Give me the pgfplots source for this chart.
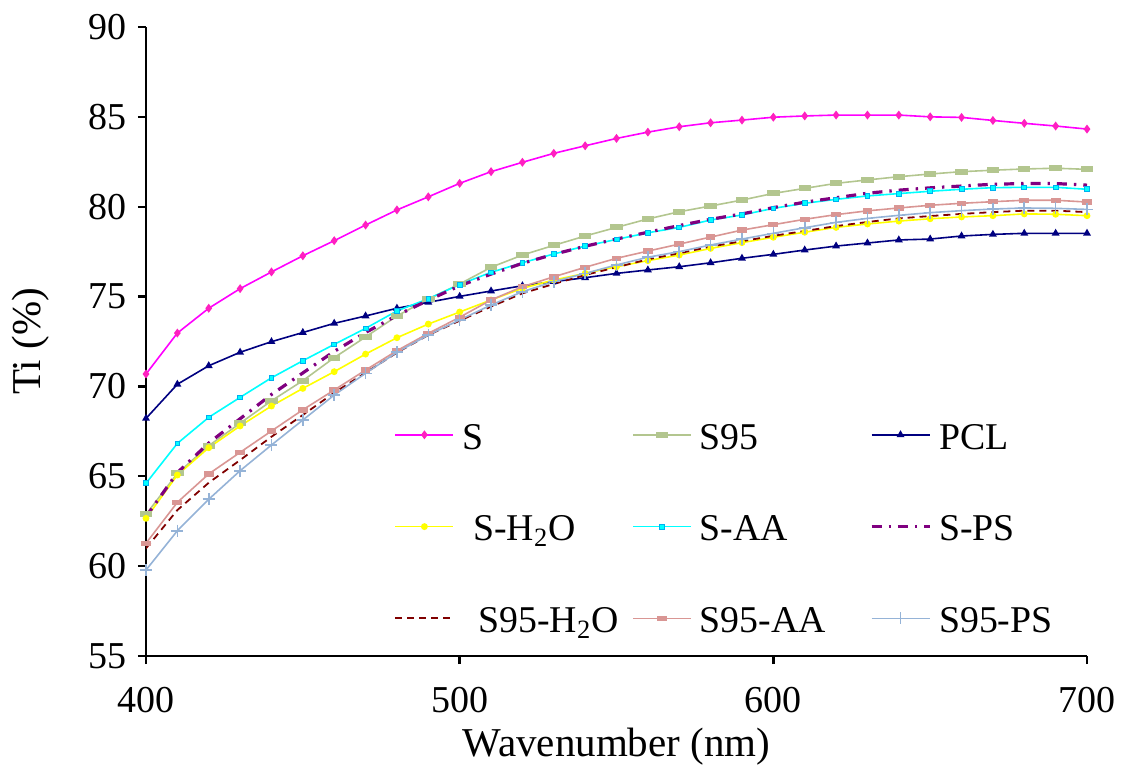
\documentclass[border=0pt]{standalone}
\usepackage{fontspec}
\setmainfont{Liberation Serif}
\usepackage{pgfplots}
\pgfplotsset{compat=1.18}
\usepackage{pgfplotstable}

\definecolor{cS}{HTML}{FF00FF}
\definecolor{cSm}{HTML}{FF20C0}
\definecolor{cSn}{HTML}{B3C68F}
\definecolor{cPCL}{HTML}{000080}
\definecolor{cSH}{HTML}{FFFF00}
\definecolor{cSAA}{HTML}{00FFFF}
\definecolor{cSAAd}{HTML}{00B0F0}
\definecolor{cSPS}{HTML}{800080}
\definecolor{cNH}{HTML}{800000}
\definecolor{cNAA}{HTML}{D99694}
\definecolor{cNPS}{HTML}{95B3D7}

\pgfplotstableread{
x   S     S95   PCL   SH    SAA   SPS   NH    NAA   NPS
400 70.69 62.88 68.22 62.66 64.61 62.75 60.99 61.27 59.78
410 72.97 65.16 70.12 65.07 66.83 65.20 63.12 63.55 61.97
420 74.35 66.70 71.15 66.59 68.28 66.85 64.64 65.13 63.72
430 75.44 67.95 71.90 67.80 69.39 68.20 65.90 66.33 65.31
440 76.37 69.20 72.49 68.91 70.48 69.55 67.20 67.52 66.74
450 77.27 70.32 73.00 69.89 71.43 70.75 68.41 68.70 68.13
460 78.11 71.60 73.51 70.82 72.34 71.95 69.65 69.80 69.52
470 78.98 72.75 73.92 71.80 73.23 73.00 70.76 70.91 70.73
480 79.82 73.92 74.35 72.71 74.20 73.95 71.88 71.99 71.90
490 80.55 74.86 74.68 73.47 74.88 74.80 72.86 72.95 72.86
500 81.30 75.70 75.01 74.14 75.67 75.60 73.66 73.85 73.70
510 81.95 76.63 75.31 74.81 76.35 76.25 74.44 74.81 74.53
520 82.47 77.31 75.60 75.46 76.88 76.85 75.18 75.55 75.27
530 82.97 77.85 75.83 75.92 77.37 77.35 75.70 76.10 75.83
540 83.39 78.37 76.05 76.29 77.81 77.80 76.20 76.63 76.29
550 83.80 78.85 76.29 76.66 78.18 78.20 76.63 77.13 76.76
560 84.15 79.32 76.48 77.00 78.55 78.58 77.07 77.53 77.19
570 84.45 79.72 76.66 77.31 78.85 78.95 77.41 77.92 77.50
580 84.67 80.04 76.88 77.68 79.26 79.30 77.78 78.31 77.87
590 84.82 80.37 77.13 78.00 79.54 79.60 78.08 78.70 78.20
600 84.98 80.74 77.35 78.30 79.91 79.95 78.38 79.00 78.52
610 85.05 81.02 77.59 78.58 80.19 80.25 78.65 79.30 78.83
620 85.10 81.30 77.81 78.85 80.41 80.50 78.92 79.56 79.13
630 85.10 81.49 77.98 79.04 80.60 80.75 79.15 79.77 79.35
640 85.10 81.67 78.15 79.20 80.73 80.92 79.35 79.93 79.52
650 85.00 81.82 78.20 79.33 80.86 81.05 79.48 80.08 79.67
660 84.97 81.95 78.37 79.43 80.97 81.15 79.60 80.19 79.78
670 84.80 82.03 78.46 79.50 81.06 81.25 79.70 80.28 79.87
680 84.64 82.10 78.52 79.60 81.08 81.29 79.78 80.36 79.93
690 84.49 82.14 78.52 79.58 81.08 81.29 79.78 80.36 79.91
700 84.32 82.08 78.52 79.50 80.97 81.20 79.70 80.26 79.85
}\data

\newcommand{\legtxt}[2][4pt]{\makebox[89pt][l]{\hspace{#1}\strut #2}}

\begin{document}
\begin{tikzpicture}
\begin{axis}[
  name=ax,
  scale only axis,
  width=470.5pt, height=314.5pt,
  xmin=400, xmax=700, ymin=55, ymax=90,
  xtick={400,500,600,700}, ytick={55,60,...,90},
  axis x line*=bottom, axis y line*=left,
  axis line style={line width=1.2pt, -},
  tick style={line width=1.2pt, black},
  tick align=outside, major tick length=4pt,
  ticklabel style={font=\fontsize{19}{22}\selectfont},
  /pgf/number format/assume math mode=true,
  xticklabel style={anchor=center, yshift=-18pt},
  yticklabel style={anchor=east, inner sep=0pt, xshift=-5.5pt},
  xlabel={Wavenumber (nm)}, ylabel={Ti (\%)},
  label style={font=\fontsize{20.5}{24}\selectfont},
  xlabel style={at={(axis description cs:0.5,-0.1445)}, anchor=center},
  ylabel style={at={(axis description cs:-0.1230,0.5)}, anchor=center},
  legend columns=3,
  legend cell align=left,
  legend style={at={(axis cs:479.1,62.2)}, anchor=west, draw=none, fill=none,
    inner sep=0pt, row sep=28.5pt, column sep=0pt,
    font=\fontsize{18.9}{22.7}\selectfont, nodes={inner sep=0pt}},
  legend image code/.code={\draw[mark repeat=2,mark phase=2,#1] plot coordinates {(0pt,0pt) (14.5pt,0pt) (29pt,0pt)};},
]
\addplot[cS, line width=0.8pt, mark=diamond*, mark size=1.6pt, mark options={fill=cSm, draw=cSm}] table[x=x,y=S] {\data};
\addlegendentry{\legtxt{S}}
\addplot[cSn, line width=0.8pt, mark=square*, mark size=1.5pt, mark options={xscale=1.8, yscale=0.75, fill=cSn, draw=cSn}] table[x=x,y=S95] {\data};
\addlegendentry{\legtxt{S95}}
\addplot[cPCL, line width=0.8pt, mark=triangle*, mark size=1.5pt, mark options={fill=cPCL, draw=cPCL}] table[x=x,y=PCL] {\data};
\addlegendentry{\legtxt{PCL}}
\addplot[cSH, line width=0.8pt, mark=*, mark size=1.3pt, mark options={fill=cSH, draw=cSH}] table[x=x,y=SH] {\data};
\addlegendentry{\legtxt[9.5pt]{S-H\textsubscript{2}O}}
\addplot[cSAA, line width=0.8pt, mark=square*, mark size=1.2pt, mark options={fill=cSAA, draw=cSAAd, line width=0.4pt}] table[x=x,y=SAA] {\data};
\addlegendentry{\legtxt{S-AA}}
\addplot[cSPS, line width=1.6pt, dash pattern=on 5pt off 3.5pt on 1.2pt off 3.5pt] table[x=x,y=SPS] {\data};
\addlegendentry{\legtxt{S-PS}}
\addplot[cNH, line width=0.9pt, dash pattern=on 3.5pt off 2.5pt] table[x=x,y=NH] {\data};
\addlegendentry{\legtxt[12pt]{S95-H\textsubscript{2}O}}
\addplot[cNAA, line width=0.8pt, mark=square*, mark size=1.2pt, mark options={xscale=1.7, yscale=0.8, fill=cNAA, draw=cNAA}] table[x=x,y=NAA] {\data};
\addlegendentry{\legtxt{S95-AA}}
\addplot[cNPS, line width=0.8pt, mark=+, mark size=3pt, mark options={line width=0.8pt}] table[x=x,y=NPS] {\data};
\addlegendentry{\legtxt{S95-PS}}
\end{axis}
\pgfresetboundingbox
\path[use as bounding box] ([shift={(-73pt,-62pt)}]ax.south west) rectangle ([shift={(488pt,328pt)}]ax.south west);
\end{tikzpicture}
\end{document}
